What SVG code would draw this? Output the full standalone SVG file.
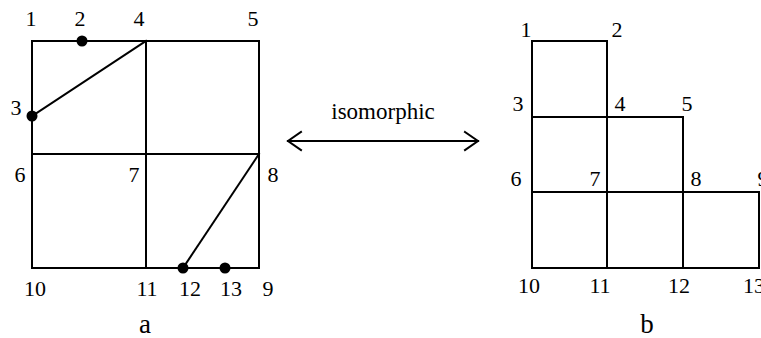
<svg xmlns="http://www.w3.org/2000/svg" width="761" height="338" viewBox="0 0 761 338">
<style>
.l{stroke:#000;stroke-width:2;fill:none;stroke-linecap:square}
.t{font-family:"Liberation Serif","Times New Roman",serif;font-size:22px;fill:#000;text-anchor:middle}
.cap{font-family:"Liberation Serif","Times New Roman",serif;font-size:27px;fill:#000;text-anchor:middle}
.d{fill:#000}
</style>
<rect width="761" height="338" fill="#fff"/>
<g id="figure-a">
<rect class="l" x="32" y="41" width="227" height="227"/>
<line class="l" x1="146" y1="41" x2="146" y2="268"/>
<line class="l" x1="32" y1="154" x2="259" y2="154"/>
<line class="l" x1="32" y1="116" x2="146" y2="41"/>
<line class="l" x1="259" y1="154" x2="183" y2="268"/>
<circle class="d" cx="82" cy="41" r="5.5"/>
<circle class="d" cx="32" cy="116" r="5.5"/>
<circle class="d" cx="183" cy="268" r="5.5"/>
<circle class="d" cx="225" cy="268" r="5.5"/>
<text class="t" x="31" y="26">1</text>
<text class="t" x="80" y="26">2</text>
<text class="t" x="139" y="26">4</text>
<text class="t" x="253" y="26">5</text>
<text class="t" x="16" y="115">3</text>
<text class="t" x="20" y="182">6</text>
<text class="t" x="134" y="182">7</text>
<text class="t" x="273" y="182">8</text>
<text class="t" x="35" y="296">10</text>
<text class="t" x="147" y="296">11</text>
<text class="t" x="190" y="296">12</text>
<text class="t" x="231" y="296">13</text>
<text class="t" x="268" y="296">9</text>
<text class="cap" x="145" y="333">a</text>
</g>
<g id="figure-b">
<rect class="l" x="532" y="41" width="75" height="76"/>
<rect class="l" x="532" y="117" width="151" height="75"/>
<line class="l" x1="607" y1="117" x2="607" y2="192"/>
<rect class="l" x="532" y="192" width="227" height="76"/>
<line class="l" x1="607" y1="192" x2="607" y2="268"/>
<line class="l" x1="683" y1="192" x2="683" y2="268"/>
<text class="t" x="526" y="37">1</text>
<text class="t" x="617" y="37">2</text>
<text class="t" x="518" y="111">3</text>
<text class="t" x="620" y="111">4</text>
<text class="t" x="687" y="111">5</text>
<text class="t" x="516" y="186">6</text>
<text class="t" x="595" y="186">7</text>
<text class="t" x="696" y="186">8</text>
<text class="t" x="763" y="186">9</text>
<text class="t" x="529" y="293">10</text>
<text class="t" x="600" y="293">11</text>
<text class="t" x="679" y="293">12</text>
<text class="t" x="754" y="293">13</text>
<text class="cap" x="647" y="333">b</text>
</g>
<g id="connectors">
<line class="l" x1="288" y1="141" x2="478" y2="141"/>
<polyline class="l" points="301,132 288,141 301,150" stroke-linecap="round" stroke-linejoin="miter"/>
<polyline class="l" points="465,132 478,141 465,150" stroke-linecap="round" stroke-linejoin="miter"/>
<text class="t" x="383" y="119" style="font-size:23px">isomorphic</text>
</g>
</svg>
